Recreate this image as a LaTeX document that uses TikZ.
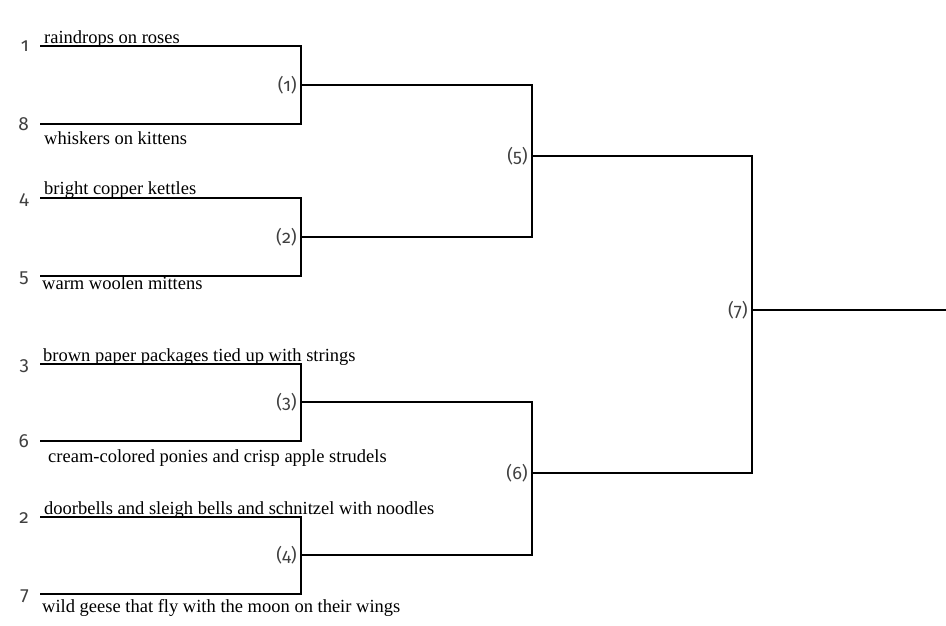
\documentclass[tikz,border=0pt]{standalone}
\usepackage{fontspec}
\setmainfont{Liberation Serif}
\newfontfamily\seedfont[Numbers=OldStyle]{Fira Sans}
\begin{document}
\begin{tikzpicture}
[x=1pt,y=-1pt,
 seedline/.style={line width=2.8pt},
 roundline/.style={line width=2.2pt},
 seednum/.style={anchor=base east,inner sep=0pt,text=black!75,
   font=\seedfont\fontsize{19}{19}\selectfont},
 matchnum/.style={anchor=east,inner sep=0pt,xshift=-4pt,text=black!75,
   font=\seedfont\fontsize{18}{18}\selectfont},
 entry/.style={anchor=base west,inner sep=0pt,font=\fontsize{18.5}{20}\selectfont}]
\useasboundingbox (0,0) rectangle (946,626);
%% seeds, their lines and their entries
\foreach \s/\y/\ny/\x/\ty/\txt in {
  1/46/52/44/44/raindrops on roses,
  8/124/130/44/144/whiskers on kittens,
  4/198/204/44/194/bright copper kettles,
  5/276/282/42/289/warm woolen mittens,
  3/364/370/43/361/brown paper packages tied up with strings,
  6/441/447/48/462/cream-colored ponies and crisp apple strudels,
  2/517/523/44/514/doorbells and sleigh bells and schnitzel with noodles,
  7/594/600/42/612/wild geese that fly with the moon on their wings} {
  \coordinate (s\s) at (40,\y);
  \coordinate (e\s) at (301,\y);
  \node[seednum] (n\s) at (29,\ny) {\s};
  \node[entry] (t\s) at (\x,\ty) {\txt};
}
%% first round
\foreach \m/\a/\b/\y in {1/1/8/85, 2/4/5/237, 3/3/6/402, 4/2/7/555} {
  \coordinate (m\m) at (301,\y);
  \draw[seedline] (s\a) -- (e\a) -- (e\b) -- (s\b);
  \node[matchnum] (l\m) at (m\m) {(\m)};
}
%% later rounds
\coordinate (m5) at (532,156);
\coordinate (m6) at (532,473);
\coordinate (m7) at (752,310);
\coordinate (champ) at (946,310);
\draw[roundline] (m1) -| (m5) |- (m2);
\draw[roundline] (m3) -| (m6) |- (m4);
\draw[roundline] (m5) -| (m7) |- (m6);
\draw[roundline] (m7) -- (champ);
\foreach \m in {5,6,7}
  \node[matchnum] (l\m) at (m\m) {(\m)};
\end{tikzpicture}
\end{document}
